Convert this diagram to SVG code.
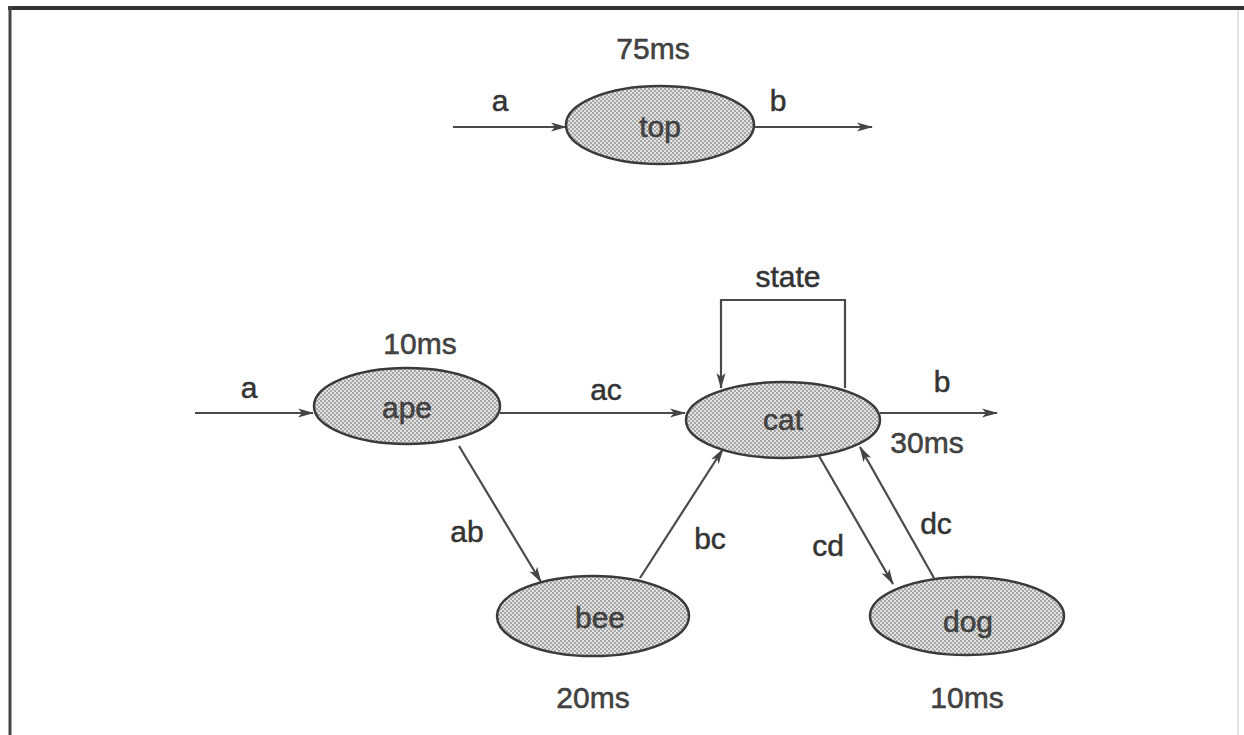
<svg xmlns="http://www.w3.org/2000/svg" width="1244" height="735" viewBox="0 0 1244 735">
<defs>
<pattern id="dots" width="4" height="4" patternUnits="userSpaceOnUse">
<rect width="4" height="4" fill="#e2e2e2"/>
<circle cx="1" cy="1" r="0.9" fill="#8a8a8a"/>
<circle cx="3" cy="3" r="0.9" fill="#8a8a8a"/>
</pattern>
<marker id="arr" viewBox="0 0 16 10" refX="15" refY="5" markerWidth="16" markerHeight="10" markerUnits="userSpaceOnUse" orient="auto">
<path d="M0,0.5 L16,5 L0,9.5 L4,5 Z" fill="#444"/>
</marker>
<style>
.node ellipse{fill:url(#dots);stroke:#3a3a3a;stroke-width:2.5}
text{font-family:"Liberation Sans",Arial,sans-serif;font-size:30px;fill:#333;stroke:#333;stroke-width:0.5;text-anchor:middle}
.node text{fill:#444}
#connectors line,#connectors polyline{stroke:#4a4a4a;stroke-width:2.2;fill:none;marker-end:url(#arr)}
</style>
</defs>
<rect width="1244" height="735" fill="#fff"/>
<g id="frame">
<line x1="8" y1="8" x2="1244" y2="8" stroke="#333" stroke-width="4"/>
<line x1="10" y1="6" x2="10" y2="735" stroke="#444" stroke-width="3"/>
<line x1="1238" y1="10" x2="1238" y2="735" stroke="#ddd" stroke-width="1.5"/>
</g>
<g id="connectors">
<line x1="453" y1="127" x2="566" y2="127"/>
<line x1="755" y1="127" x2="872" y2="127"/>
<line x1="195" y1="413" x2="313" y2="413"/>
<line x1="500" y1="413" x2="685" y2="413"/>
<line x1="880" y1="413" x2="997" y2="413"/>
<polyline points="845,388 845,300 721,300 721,388"/>
<line x1="459" y1="446" x2="541" y2="582"/>
<line x1="640" y1="578" x2="723" y2="449"/>
<line x1="819" y1="456" x2="893" y2="584"/>
<line x1="934" y1="578" x2="860" y2="447"/>
</g>
<g id="edge-labels">
<text x="500" y="111">a</text>
<text x="778" y="111">b</text>
<text x="249" y="398">a</text>
<text x="606" y="400">ac</text>
<text x="942" y="392">b</text>
<text x="788" y="287">state</text>
<text x="467" y="542">ab</text>
<text x="710" y="549">bc</text>
<text x="828" y="556">cd</text>
<text x="936" y="534">dc</text>
</g>
<g id="top" class="node">
<ellipse cx="660" cy="125" rx="94" ry="39"/>
<text x="660" y="137">top</text>
<text x="653" y="59">75ms</text>
</g>
<g id="ape" class="node">
<ellipse cx="407" cy="406" rx="93" ry="38"/>
<text x="407" y="418">ape</text>
<text x="420" y="354">10ms</text>
</g>
<g id="cat" class="node">
<ellipse cx="783" cy="420" rx="97" ry="38"/>
<text x="783" y="430">cat</text>
<text x="927" y="453">30ms</text>
</g>
<g id="bee" class="node">
<ellipse cx="593" cy="616" rx="96" ry="40"/>
<text x="600" y="628">bee</text>
<text x="593" y="708">20ms</text>
</g>
<g id="dog" class="node">
<ellipse cx="967" cy="616" rx="97" ry="39"/>
<text x="968" y="632">dog</text>
<text x="967" y="708">10ms</text>
</g>
</svg>
